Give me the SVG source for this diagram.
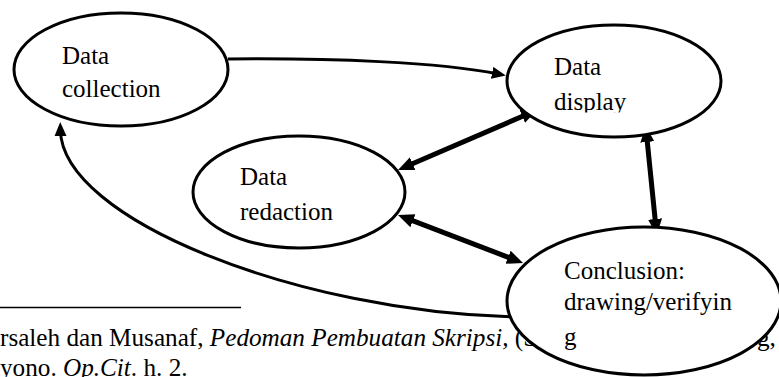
<svg xmlns="http://www.w3.org/2000/svg" width="779" height="377" viewBox="0 0 779 377">
<style>
.node{fill:#fff;stroke:#000;stroke-width:3}
.lbl{font-family:"Liberation Serif","Times New Roman",serif;font-size:25px;fill:#000}
.thin{fill:none;stroke:#000;stroke-width:3}
.thick{fill:none;stroke:#000;stroke-width:5}
.fn{font-family:"Liberation Serif","Times New Roman",serif;font-size:25.2px;fill:#000}
</style>
<defs>
<marker id="arrS" markerUnits="userSpaceOnUse" markerWidth="16" markerHeight="14" refX="6" refY="6" orient="auto-start-reverse">
<path d="M0,0 L14,6 L0,12 z" fill="#000"/>
</marker>
<marker id="arrL" markerUnits="userSpaceOnUse" markerWidth="18" markerHeight="16" refX="6" refY="7" orient="auto-start-reverse">
<path d="M0,0 L16,7 L0,14 z" fill="#000"/>
</marker>
<clipPath id="clipDisplay"><rect x="500" y="30" width="220" height="82.5"/></clipPath>
</defs>
<g id="footnote">
<line x1="0" y1="307.5" x2="241" y2="307.5" stroke="#000" stroke-width="1.5"/>
<text class="fn" x="0" y="346">rsaleh dan Musanaf, <tspan font-style="italic">Pedoman Pembuatan Skripsi,</tspan> (S</text>
<text class="fn" x="757" y="346">g,</text>
<text class="fn" x="0" y="375.5">yono. <tspan font-style="italic">Op.Cit</tspan>. h. 2.</text>
</g>
<g id="connectors">
<path class="thin" d="M228,59 C330,58 440,62 498,74" marker-end="url(#arrS)"/>
<path class="thin" d="M515,317 C300,312 62,220 60.4,130" marker-end="url(#arrS)"/>
<path class="thick" d="M407.2,166 L527.8,114" marker-start="url(#arrL)" marker-end="url(#arrL)"/>
<path class="thick" d="M646.7,136 L655.7,225" marker-start="url(#arrL)" marker-end="url(#arrL)"/>
<path class="thick" d="M407.3,218.6 L513.7,259.4" marker-start="url(#arrL)" marker-end="url(#arrL)"/>
</g>
<g id="data-collection">
<ellipse class="node" cx="121" cy="69.5" rx="107" ry="56.5"/>
<text class="lbl" x="62" y="64">Data</text>
<text class="lbl" x="62" y="97">collection</text>
</g>
<g id="data-display">
<ellipse class="node" cx="614" cy="81" rx="107" ry="56"/>
<g clip-path="url(#clipDisplay)">
<text class="lbl" x="554" y="75">Data</text>
<text class="lbl" x="554" y="109.5">display</text>
</g>
</g>
<g id="data-redaction">
<ellipse class="node" cx="299" cy="192" rx="106" ry="56"/>
<text class="lbl" x="240" y="185">Data</text>
<text class="lbl" x="240" y="220">redaction</text>
</g>
<g id="conclusion">
<ellipse class="node" cx="644" cy="301" rx="137" ry="74"/>
<text class="lbl" x="564" y="279">Conclusion:</text>
<text class="lbl" x="564" y="310">drawing/verifyin</text>
<text class="lbl" x="564" y="345">g</text>
</g>
</svg>
